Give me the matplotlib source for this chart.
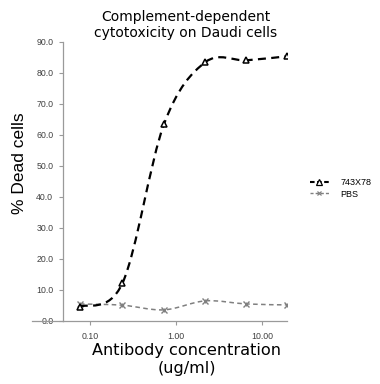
import numpy as np
import matplotlib
matplotlib.use("Agg")
import matplotlib.pyplot as plt
from matplotlib.path import Path
from matplotlib.patches import PathPatch
from matplotlib.lines import Line2D

# ---- data ----
concentration = [0.077, 0.24, 0.73, 2.2, 6.6, 19.5]
dead_743X78 = [4.5, 12.1, 63.5, 83.4, 84.0, 85.3]
dead_PBS = [5.4, 5.0, 3.5, 6.4, 5.4, 5.1]
series_names = ["743X78", "PBS"]
y_ticks = [0, 10, 20, 30, 40, 50, 60, 70, 80, 90]
x_ticks = [0.1, 1, 10]
x_tick_labels = ["0.10", "1.00", "10.00"]

W, H = 380, 384
fig = plt.figure(figsize=(W / 100, H / 100), dpi=100)
fig.patch.set_facecolor("white")

def fx(px):
    return px / W

def fy(py):
    return 1 - py / H

ax_left, ax_right, ax_top, ax_bottom = 63, 287, 41.7, 320.7
ax = fig.add_axes([fx(ax_left), fy(ax_bottom), fx(ax_right) - fx(ax_left),
                   (ax_bottom - ax_top) / H])
ax.set_xscale("log")
ax.set_xlim(0.049, 19.5)
ax.set_ylim(0, 90)

def smooth_path(xs, ys):
    u = np.log10(np.asarray(xs, float))
    v = np.asarray(ys, float)
    n = len(u)
    verts = [(xs[0], ys[0])]
    codes = [Path.MOVETO]
    for i in range(n - 1):
        i0 = max(i - 1, 0)
        i3 = min(i + 2, n - 1)
        c1u = u[i] + (u[i + 1] - u[i0]) / 6
        c1v = v[i] + (v[i + 1] - v[i0]) / 6
        c2u = u[i + 1] - (u[i3] - u[i]) / 6
        c2v = v[i + 1] - (v[i3] - v[i]) / 6
        verts += [(10 ** c1u, c1v), (10 ** c2u, c2v), (10 ** u[i + 1], v[i + 1])]
        codes += [Path.CURVE4] * 3
    return Path(verts, codes)

gray = "#808080"
ax.add_patch(PathPatch(smooth_path(concentration, dead_PBS), fill=False,
                       edgecolor=gray, lw=1.1, linestyle=(0, (3, 2.2)), zorder=2))
ax.plot(concentration, dead_PBS, linestyle="none", marker="x", color=gray,
        markersize=4.5, markeredgewidth=1.0, zorder=3)
ax.plot(concentration, dead_PBS, linestyle="none", marker="|", color=gray,
        markersize=3.5, markeredgewidth=0.8, zorder=3)
ax.add_patch(PathPatch(smooth_path(concentration, dead_743X78), fill=False,
                       edgecolor="black", lw=1.6, linestyle=(0, (3.6, 2.4)), zorder=4))
ax.plot(concentration, dead_743X78, linestyle="none", marker="^", color="black",
        markerfacecolor="white", markersize=5, markeredgewidth=1.1, zorder=5)

for s in ["top", "right"]:
    ax.spines[s].set_visible(False)
for s in ["left", "bottom"]:
    ax.spines[s].set_color("#9a9a9a")
    ax.spines[s].set_linewidth(0.9)
# x axis line extending to the left of the y axis
ax.add_line(Line2D([-0.14, 0], [0, 0], transform=ax.transAxes, color="#9a9a9a",
                   lw=0.9, clip_on=False))

ax.set_yticks(y_ticks)
ax.set_yticklabels([f"{t:.1f}" for t in y_ticks])
ax.set_xticks(x_ticks)
ax.set_xticklabels(x_tick_labels)
ax.xaxis.set_minor_locator(matplotlib.ticker.NullLocator())
ax.tick_params(axis="both", direction="out", length=3, width=0.8, color="#9a9a9a",
               labelsize=6.3, labelcolor="#404040")
ax.tick_params(axis="y", pad=4)
ax.tick_params(axis="x", pad=5)
for lab in ax.get_xticklabels() + ax.get_yticklabels():
    lab.set_fontfamily("Liberation Sans")

fig.text(fx(186), fy(16.7), "Complement-dependent", ha="center", va="center",
         fontsize=10, family="DejaVu Sans")
fig.text(fx(186), fy(33.3), "cytotoxicity on Daudi cells", ha="center", va="center",
         fontsize=10, family="DejaVu Sans")
fig.text(fx(20), fy(163), "% Dead cells", rotation=90, ha="center", va="center",
         fontsize=12.5, family="Liberation Sans")
fig.text(fx(187), fy(350), "Antibody concentration", ha="center", va="center",
         fontsize=11.6, family="DejaVu Sans")
fig.text(fx(187), fy(368), "(ug/ml)", ha="center", va="center",
         fontsize=11.6, family="DejaVu Sans")

h1 = Line2D([], [], color="black", lw=1.5, linestyle=(0, (2.2, 1.2)), marker="^",
            markerfacecolor="white", markersize=4, markeredgewidth=0.9)
h2 = Line2D([], [], color=gray, lw=1.0, linestyle=(0, (2.2, 1.5)), marker="x",
            markersize=3.5, markeredgewidth=0.9)
leg = fig.legend([h1, h2], series_names, loc="center left",
                 bbox_to_anchor=(fx(310), fy(188.3)), frameon=False,
                 prop={"family": "Liberation Sans", "size": 6.5},
                 handlelength=2.1, handletextpad=1.3, labelspacing=0.3,
                 borderpad=0, borderaxespad=0)

fig.savefig("out.png", dpi=100)
